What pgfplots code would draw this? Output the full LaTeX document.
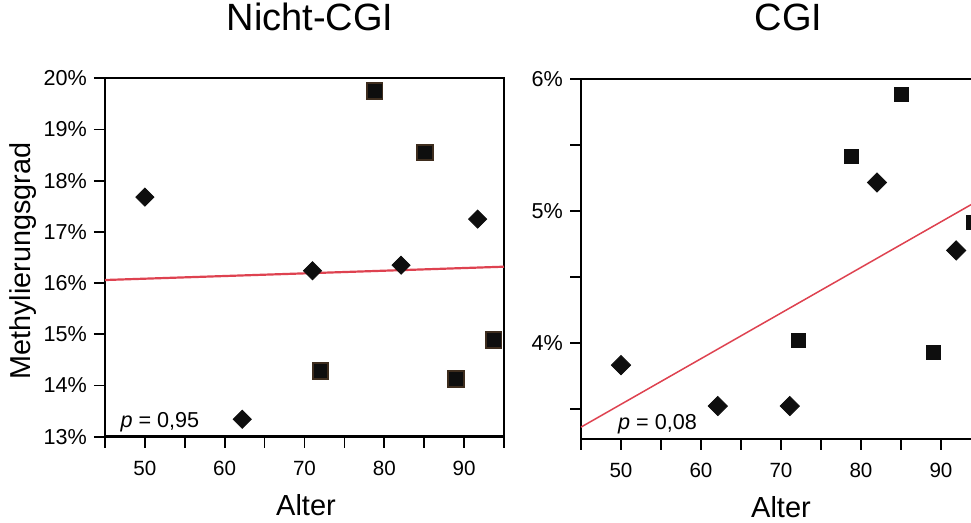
\documentclass[border=0pt]{standalone}
\usepackage{fontspec}
\setmainfont{Liberation Sans}
\usepackage{pgfplots}
\pgfplotsset{compat=1.18}
\definecolor{fitred}{HTML}{DE4250}
\definecolor{sqedge}{HTML}{3E2D1E}
\definecolor{markblack}{HTML}{0E0E0E}

\pgfplotsset{
  panel/.style={
    scale only axis,
    anchor=south west,
    xmin=45, xmax=95,
    xtick={50,60,70,80,90},
    minor xtick={45,55,65,75,85,95},
    tick align=outside,
    tick pos=left,
    major tick length=5.5pt,
    minor tick length=5.5pt,
    axis line style={line width=1.2pt, black},
    every tick/.style={line width=0.85pt, black},
    /pgf/number format/assume math mode=true,
    xticklabel style={font=\fontsize{10.3}{12}\selectfont, yshift=-3pt},
    yticklabel style={font=\fontsize{10.8}{12}\selectfont},
    title style={font=\fontsize{19}{22}\selectfont, at={(0.5,1)}, anchor=base, yshift=18pt},
    xlabel style={font=\fontsize{14.5}{16}\selectfont, at={(0.5,0)}, anchor=base, yshift=-39.5pt},
    clip=false,
  },
  dia/.style={only marks, mark=square*, mark size=3.2pt,
    mark options={fill=markblack, draw=markblack, rotate=45}},
}

\begin{document}
\begin{tikzpicture}
\begin{axis}[
  panel,
  at={(52.5pt,43.15pt)},
  width=199.5pt, height=179.2pt,
  ymin=13, ymax=20,
  ytick={13,14,15,16,17,18,19,20},
  yticklabels={13\%,14\%,15\%,16\%,17\%,18\%,19\%,20\%},
  title={Nicht-CGI},
  title style={xshift=2.75pt},
  xlabel={Alter},
  xlabel style={xshift=0.75pt},
  ylabel={Methylierungsgrad},
  ylabel style={font=\fontsize{14.4}{16}\selectfont, at={(axis description cs:-0.2055,0.49)}, anchor=center, rotate=0},
]
\addplot[color=fitred, line width=1.1pt] coordinates {(45,16.06) (95,16.32)};
\addplot[dia] coordinates {(50,17.68) (62.2,13.34) (71,16.24) (82.1,16.35) (91.7,17.25)};
\addplot[only marks, mark=square*, mark size=3.9pt,
  mark options={fill=markblack, draw=sqedge, line width=0.9pt}]
  coordinates {(78.8,19.75) (85.1,18.55) (72,14.28) (89,14.13) (93.7,14.89)};
\node[anchor=base west, font=\fontsize{10.8}{12}\selectfont, inner sep=0pt]
  at (axis cs:46.9,13.17) {\textit{p} = 0,95};
\end{axis}

\begin{axis}[
  panel,
  at={(290.5pt,42pt)},
  width=200pt, height=180pt,
  ymin=3.27, ymax=6,
  ytick={4,5,6},
  minor ytick={3.5,4.5,5.5},
  yticklabels={4\%,5\%,6\%},
  title={CGI},
  title style={xshift=3.75pt},
  xlabel={Alter},
]
\addplot[color=fitred, line width=0.75pt] coordinates {(45,3.36) (95,5.09)};
\addplot[dia, mark size=3.4pt] coordinates {(50,3.83) (62.1,3.52) (71.1,3.52) (82,5.215) (91.9,4.70)};
\addplot[only marks, mark=square*, mark size=3.5pt,
  mark options={fill=markblack, draw=markblack}]
  coordinates {(85,5.885) (78.75,5.41) (72.2,4.015) (89,3.93) (94,4.91)};
\node[anchor=base west, font=\fontsize{10.8}{12}\selectfont, inner sep=0pt]
  at (axis cs:49.6,3.345) {\textit{p} = 0,08};
\end{axis}
\pgfresetboundingbox
\useasboundingbox (0,0) rectangle (485.5pt,261.5pt);
\end{tikzpicture}
\end{document}
